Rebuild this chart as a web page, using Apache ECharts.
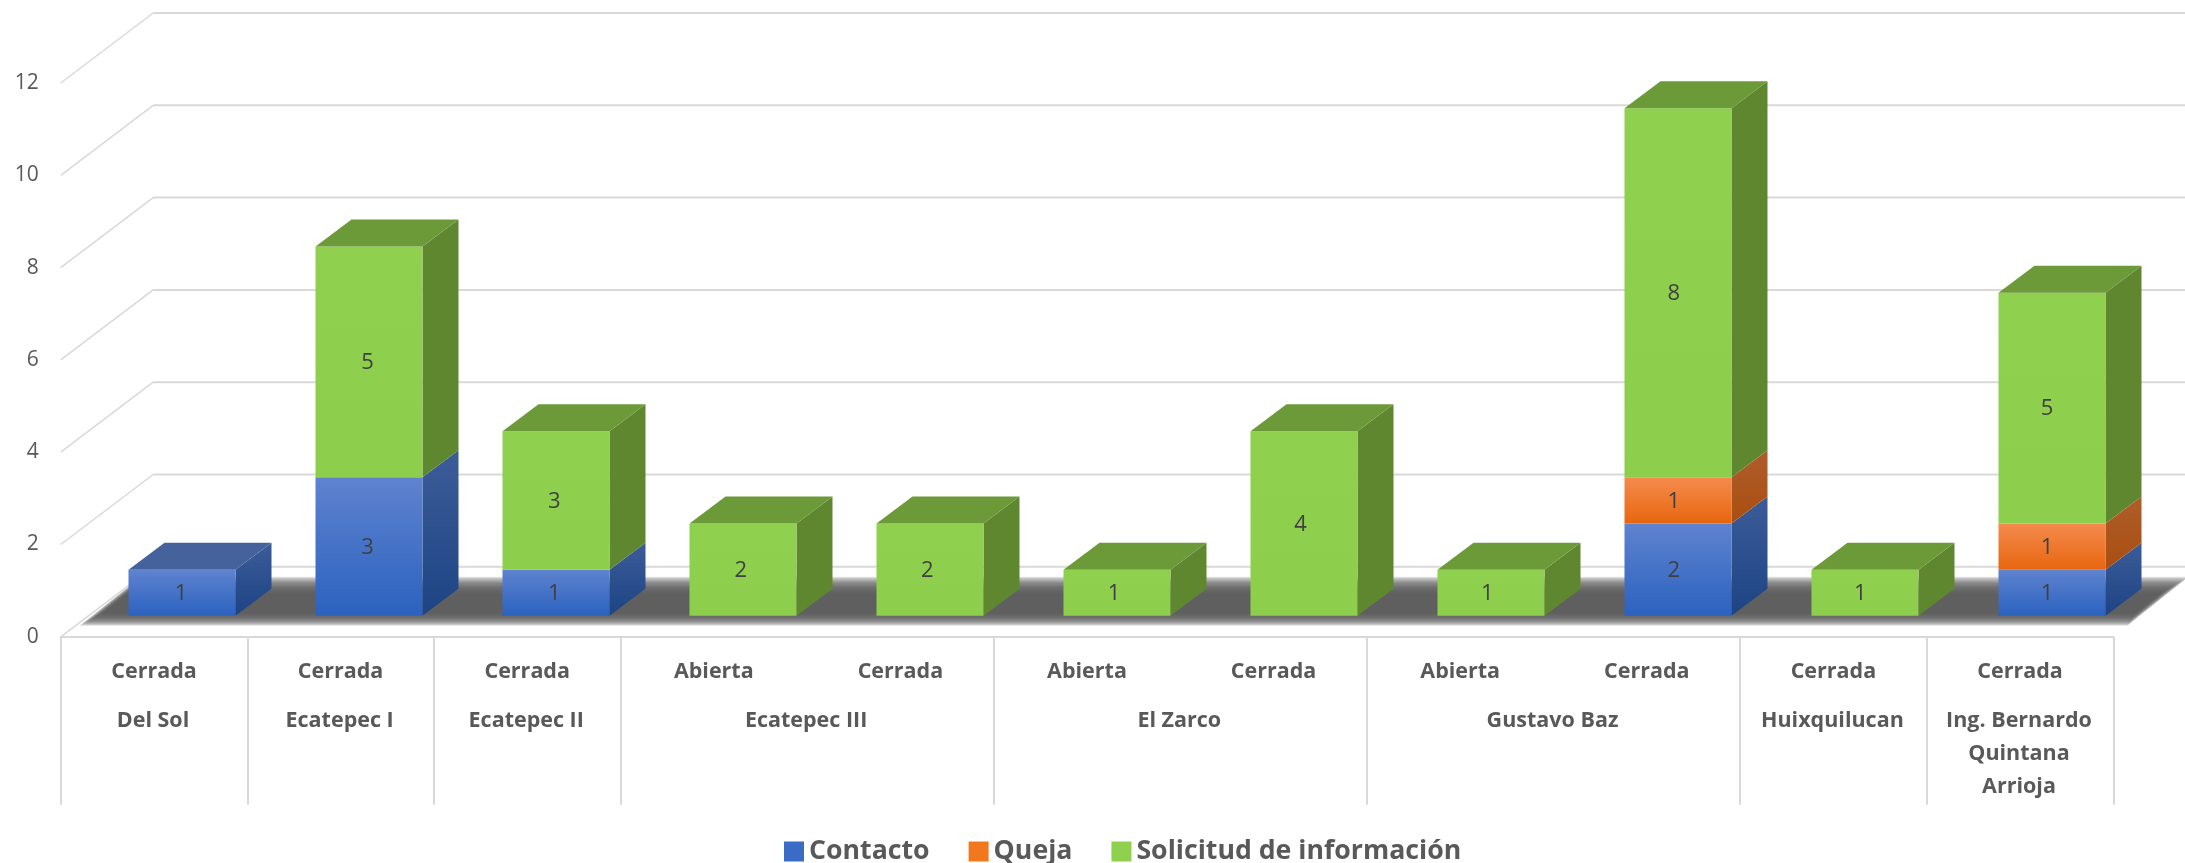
<!DOCTYPE html>
<html>
<head>
<meta charset="utf-8">
<style>html,body{margin:0;padding:0;background:#fff}#c{width:2185px;height:863px}</style>
<script src="https://cdn.jsdelivr.net/npm/echarts@6/dist/echarts.min.js"></script>
</head>
<body>
<div id="c"></div>
<script>
var statuses = ['Cerrada','Cerrada','Cerrada','Abierta','Cerrada','Abierta','Cerrada','Abierta','Cerrada','Cerrada','Cerrada'];
var groupNames = ['Del Sol','Ecatepec I','Ecatepec II','Ecatepec III','El Zarco','Gustavo Baz','Huixquilucan','Ing. Bernardo\nQuintana\nArrioja'];
var groupStarts = [0,1,2,3,5,7,9,10];
var groupEnds = [0,1,2,4,6,8,9,10];
var contacto = [1,3,1,0,0,0,0,0,2,0,1];
var queja = [0,0,0,0,0,0,0,0,1,0,1];
var solicitud = [0,5,3,2,2,1,4,1,8,1,5];
var yTicks = [0,2,4,6,8,10,12];
var seriesNames = ['Contacto','Queja','Solicitud de información'];

var chart = echarts.init(document.getElementById('c'), null, {renderer:'canvas'});
var G = echarts.graphic;
var FONT = '"Open Sans", sans-serif';
var GRID = '#d9d9d9';

function grad(a, b){ return new G.LinearGradient(0,0,0,1,[{offset:0,color:a},{offset:1,color:b}]); }

var palette = [
  {front:['#5f83cf','#2b62bf'], side:['#3c5c98','#1d4484'], top:'#46629c', legend:'#3a6bc5'},
  {front:['#f58b4e','#e7660f'], side:['#ae5d2b','#a94e10'], top:'#a95a25', legend:'#f2781f'},
  {front:['#8fd14f','#8dcf4c'], side:['#5f8730','#5f8730'], top:'#6c9a38', legend:'#8fd14f'}
];
var stacks = [contacto, queja, solicitud];

function barSeries(k){
  var data = stacks[k].map(function(v,i){
    var base = 0; for (var j=0;j<k;j++) base += stacks[j][i];
    var top = true; for (var m=k+1;m<stacks.length;m++) if (stacks[m][i]>0) top=false;
    return [i, base, base+v, v, top?1:0];
  });
  return {
    name: seriesNames[k], type:'custom', z:5, data:data, silent:true,
    encode:{x:0,y:[1,2]},
    itemStyle:{color:palette[k].legend},
    renderItem:function(params, api){
      var v = api.value(3); if (!v) return null;
      var i = api.value(0);
      var a = api.coord([i, api.value(1)]), b = api.coord([i, api.value(2)]);
      var band = api.size([1,0])[0];
      var w = band*0.5735, shiftX = 28 + 0.4*i, shiftY = -21, dx = 36, dy = -27;
      var cx = a[0]+shiftX, x0 = cx-w/2, x1 = cx+w/2, y0 = a[1]+shiftY, y1 = b[1]+shiftY;
      var p = palette[k];
      var kids = [
        {type:'polygon', shape:{points:[[x1,y0],[x1+dx,y0+dy],[x1+dx,y1+dy],[x1,y1]]}, style:{fill:grad(p.side[0],p.side[1])}},
        {type:'rect', shape:{x:x0,y:y1,width:w,height:y0-y1}, style:{fill:grad(p.front[0],p.front[1])}}
      ];
      if (api.value(4)) kids.push({type:'polygon', shape:{points:[[x0,y1],[x1,y1],[x1+dx,y1+dy],[x0+dx,y1+dy]]}, style:{fill:p.top}});
      kids.push({type:'text', z2:10, style:{text:String(v), x:a[0]+27, y:(y0+y1)/2+1, align:'center', verticalAlign:'middle', fill:'#404040', font:'22px '+FONT}});
      return {type:'group', children:kids};
    }
  };
}

var wallSeries = {
  name:'wall', type:'custom', z:1, silent:true, data:yTicks.map(function(v){return [0,v];}),
  encode:{x:0,y:1},
  renderItem:function(params, api){
    var p = api.coord([0, api.value(1)]);
    var x0 = p[0]-api.size([1,0])[0]/2, y0 = p[1], dx = 92.5, dy = -70;
    return {type:'group', children:[
      {type:'line', shape:{x1:x0,y1:y0,x2:x0+dx,y2:y0+dy}, style:{stroke:GRID,lineWidth:1.5}},
      {type:'line', shape:{x1:x0+dx,y1:y0+dy,x2:api.getWidth(),y2:y0+dy}, style:{stroke:GRID,lineWidth:2}}
    ]};
  }
};

var floorSeries = {
  name:'floor', type:'custom', z:2, silent:true, data:[[0,0]],
  encode:{x:0,y:1},
  renderItem:function(params, api){
    var p = api.coord([0,0]), band = api.size([1,0])[0];
    var l = p[0]-band/2, y = p[1], kids = [], N = 14;
    for (var j=0;j<N;j++){
      var f = j/(N-1), yt = y-60+17*f, yb = y-11-13*f, ins = 8*f;
      kids.push({type:'polygon', shape:{points:[
        [l+20+(y-12-yb)*1.25+ins, yb],
        [l+20+(y-12-yt)*1.25+ins, yt],
        [l+2068+(y-12-yt)*1.25-ins, yt],
        [l+2068+(y-12-yb)*1.25-ins, yb]
      ]}, style:{fill:'#5a5a5a', opacity:0.2}});
    }
    return {type:'group', children:kids};
  }
};

var groupSeries = {
  name:'groups', type:'custom', z:6, silent:true,
  data:groupNames.map(function(n,i){return [groupStarts[i], groupEnds[i]];}),
  encode:{x:[0,1]},
  renderItem:function(params, api){
    var a = api.coord([api.value(0),0]), b = api.coord([api.value(1),0]);
    return {type:'text', style:{text:groupNames[params.dataIndex], x:(a[0]+b[0])/2-1, y:a[1]+68, align:'center', verticalAlign:'top',
      lineHeight:33, fill:'#595959', font:'bold 21.5px '+FONT}};
  }
};

var boundaries = [0,1,2,3,5,7,9,10];

chart.setOption({
  animation:false,
  backgroundColor:'#fff',
  grid:{left:60.7, top:83, width:2052.6, height:553.8, containLabel:false},
  legend:{
    data:seriesNames, left:779, top:833, itemWidth:20, itemHeight:20, itemGap:39, icon:'rect', selectedMode:false,
    textStyle:{fontFamily:FONT, fontWeight:'bold', fontSize:26.7, color:'#595959'}
  },
  xAxis:{
    type:'category', data:statuses, boundaryGap:true,
    axisLine:{lineStyle:{color:GRID,width:2}},
    axisTick:{show:true, length:168, interval:function(i){return boundaries.indexOf(i)>=0;}, lineStyle:{color:GRID,width:2}},
    axisLabel:{interval:0, margin:35, verticalAlign:'middle', fontFamily:FONT, fontWeight:'bold', fontSize:21.5, color:'#595959'}
  },
  yAxis:{
    type:'value', min:0, max:12, interval:2,
    axisLine:{show:false}, axisTick:{show:false}, splitLine:{show:false},
    axisLabel:{margin:22, verticalAlign:'middle', verticalAlignMinLabel:'middle', verticalAlignMaxLabel:'middle', fontFamily:FONT, fontSize:21, color:'#595959'}
  },
  series:[wallSeries, floorSeries, barSeries(0), barSeries(1), barSeries(2), groupSeries]
});
</script>
</body>
</html>
